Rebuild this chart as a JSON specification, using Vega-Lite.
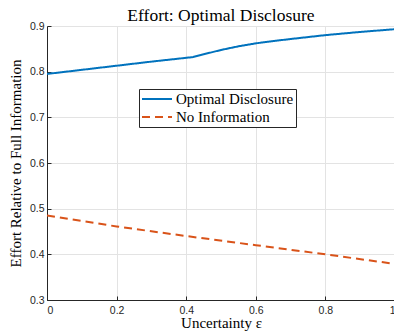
{
  "$schema": "https://vega.github.io/schema/vega-lite/v6.json",
  "width": 348,
  "height": 274,
  "autosize": {"type": "none"},
  "padding": {"left": 47, "top": 26, "right": 0, "bottom": 33},
  "background": "white",
  "title": {"text": "Effort: Optimal Disclosure", "font": "Liberation Serif", "fontSize": 17.5, "fontWeight": "normal", "color": "black", "offset": -3, "anchor": "middle"},
  "config": {
    "view": {"stroke": null},
    "axis": {
      "labelFont": "Liberation Sans", "labelFontSize": 10.5, "labelColor": "#262626",
      "titleFont": "Liberation Serif", "titleFontSize": 15, "titleFontWeight": "normal", "titleColor": "black",
      "domainColor": "#262626", "domainWidth": 1, "tickColor": "#262626", "tickSize": -4,
      "gridColor": "#e3e3e3", "gridWidth": 1
    },
    "legend": {
      "orient": "none", "legendX": 92, "legendY": 63,
      "strokeColor": "#262626", "fillColor": "white", "padding": 2,
      "labelFont": "Liberation Serif", "labelFontSize": 15, "labelColor": "black", "labelOffset": 3,
      "symbolType": "stroke", "symbolSize": 900, "symbolStrokeWidth": 2, "rowPadding": 2, "clipHeight": 16
    }
  },
  "data": {"values": [
    {"eps": 0.0, "effort": 0.795, "series": "Optimal Disclosure"},
    {"eps": 0.1, "effort": 0.804, "series": "Optimal Disclosure"},
    {"eps": 0.2, "effort": 0.813, "series": "Optimal Disclosure"},
    {"eps": 0.3, "effort": 0.822, "series": "Optimal Disclosure"},
    {"eps": 0.42, "effort": 0.832, "series": "Optimal Disclosure"},
    {"eps": 0.45, "effort": 0.838, "series": "Optimal Disclosure"},
    {"eps": 0.5, "effort": 0.8475, "series": "Optimal Disclosure"},
    {"eps": 0.55, "effort": 0.8555, "series": "Optimal Disclosure"},
    {"eps": 0.6, "effort": 0.862, "series": "Optimal Disclosure"},
    {"eps": 0.65, "effort": 0.867, "series": "Optimal Disclosure"},
    {"eps": 0.7, "effort": 0.8715, "series": "Optimal Disclosure"},
    {"eps": 0.8, "effort": 0.880, "series": "Optimal Disclosure"},
    {"eps": 0.9, "effort": 0.887, "series": "Optimal Disclosure"},
    {"eps": 1.0, "effort": 0.893, "series": "Optimal Disclosure"},
    {"eps": 0.0, "effort": 0.485, "series": "No Information"},
    {"eps": 0.2, "effort": 0.461, "series": "No Information"},
    {"eps": 0.4, "effort": 0.440, "series": "No Information"},
    {"eps": 0.6, "effort": 0.420, "series": "No Information"},
    {"eps": 0.8, "effort": 0.400, "series": "No Information"},
    {"eps": 1.0, "effort": 0.379, "series": "No Information"}
  ]},
  "mark": {"type": "line", "strokeWidth": 2, "clip": true},
  "encoding": {
    "x": {"field": "eps", "type": "quantitative", "scale": {"domain": [0, 1], "nice": false},
      "axis": {"title": "Uncertainty ε", "values": [0, 0.2, 0.4, 0.6, 0.8, 1], "format": "~g", "labelPadding": 9, "titlePadding": 0}},
    "y": {"field": "effort", "type": "quantitative", "scale": {"domain": [0.3, 0.9], "nice": false, "zero": false},
      "axis": {"title": "Effort Relative to Full Information", "values": [0.3, 0.4, 0.5, 0.6, 0.7, 0.8, 0.9], "format": "~g", "labelPadding": 7, "titlePadding": 6}},
    "color": {"field": "series", "type": "nominal", "scale": {"domain": ["Optimal Disclosure", "No Information"], "range": ["#0072BD", "#D95319"]},
      "legend": {"title": null, "labelFont": "Liberation Serif", "labelFontSize": 15}},
    "strokeDash": {"field": "series", "type": "nominal", "scale": {"domain": ["Optimal Disclosure", "No Information"], "range": [[1, 0], [8, 5]]},
      "legend": {"title": null, "labelFont": "Liberation Serif", "labelFontSize": 15}}
  }
}
